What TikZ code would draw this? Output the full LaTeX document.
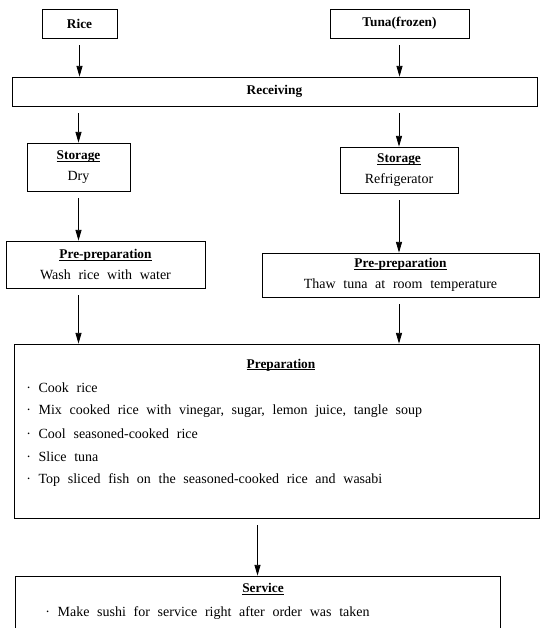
\documentclass[tikz,border=0pt]{standalone}
\usepackage{fontspec}
\setmainfont{Liberation Serif}
\usetikzlibrary{arrows.meta}

\tikzset{
  box/.style={draw,line width=0.6pt,inner sep=0pt,align=center},
  hd/.style={font=\fontsize{10}{12}\selectfont\bfseries},
  item/.style={inner sep=0pt,anchor=west},
  arr/.style={-{Triangle[length=8pt,width=4.5pt]},line width=0.6pt,shorten <=5pt},
}
\newsavebox{\hdrbox}
\newcommand{\hdr}[1]{\sbox{\hdrbox}{\fontsize{10}{12}\selectfont\textbf{#1}}%
  \rlap{\rule[-1.3pt]{\wd\hdrbox}{0.6pt}}\usebox{\hdrbox}}

\begin{document}
\begin{tikzpicture}[x=0.75pt,y=-0.75pt,font=\fontsize{10.5}{12.5}\selectfont,
  execute at begin node={\spaceskip=0.55em\relax}]
\def\px{0.75pt}
\useasboundingbox (0,0) rectangle (541,628);

% raw materials
\node[box,hd,minimum width=75*\px,minimum height=29*\px] (rice) at (79.5,23.5) {Rice};
\node[box,hd,minimum width=139*\px,minimum height=29*\px] (tuna) at (399.5,23.5) {Tuna(frozen)};

% receiving
\node[box,hd,minimum width=525*\px,minimum height=29*\px] (recv) at (274.5,91.5) {Receiving};

% storage
\node[box,minimum width=103*\px,minimum height=48*\px] (storl) at (78.5,167) {\hdr{Storage}\\[3pt]Dry};
\node[box,minimum width=118*\px,minimum height=46*\px] (storr) at (399,170) {\hdr{Storage}\\[3pt]Refrigerator};

% pre-preparation
\node[box,minimum width=199*\px,minimum height=47*\px] (prel) at (105.5,264.5) {\hdr{Pre-preparation}\\[3pt]Wash rice with water};
\node[box,minimum width=277*\px,minimum height=44*\px] (prer) at (400.5,275) {\hdr{Pre-preparation}\\[3pt]Thaw tuna at room temperature};

% preparation
\node[box,minimum width=525*\px,minimum height=174*\px] (prep) at (276.5,431) {};
\node[inner sep=0pt] (preph) at (281,365) {\hdr{Preparation}};
\node[item] (p1) at (26,388) {\textperiodcentered\ Cook rice};
\node[item] (p2) at (26,411) {\textperiodcentered\ Mix cooked rice with vinegar, sugar, lemon juice, tangle soup};
\node[item] (p3) at (26,434) {\textperiodcentered\ Cool seasoned-cooked rice};
\node[item] (p4) at (26,457) {\textperiodcentered\ Slice tuna};
\node[item] (p5) at (26,480) {\textperiodcentered\ Top sliced fish on the seasoned-cooked rice and wasabi};

% service
\node[box,minimum width=485*\px,minimum height=64*\px] (serv) at (257.5,608) {};
\node[inner sep=0pt] (servh) at (263,589) {\hdr{Service}};
\node[item] (s1) at (45,613) {\textperiodcentered\ Make sushi for service right after order was taken};

\draw[arr] (rice) -- (rice |- recv.north);
\draw[arr] (tuna) -- (tuna |- recv.north);
\draw[arr] (recv.south -| storl) -- (storl);
\draw[arr] (recv.south -| storr) -- (storr);
\draw[arr] (storl) -- (storl |- prel.north);
\draw[arr] (storr) -- (storr |- prer.north);
\draw[arr] (storl |- prel.south) -- (storl |- prep.north);
\draw[arr] (storr |- prer.south) -- (storr |- prep.north);
\draw[arr] (serv |- prep.south) -- (serv);
\end{tikzpicture}
\end{document}
